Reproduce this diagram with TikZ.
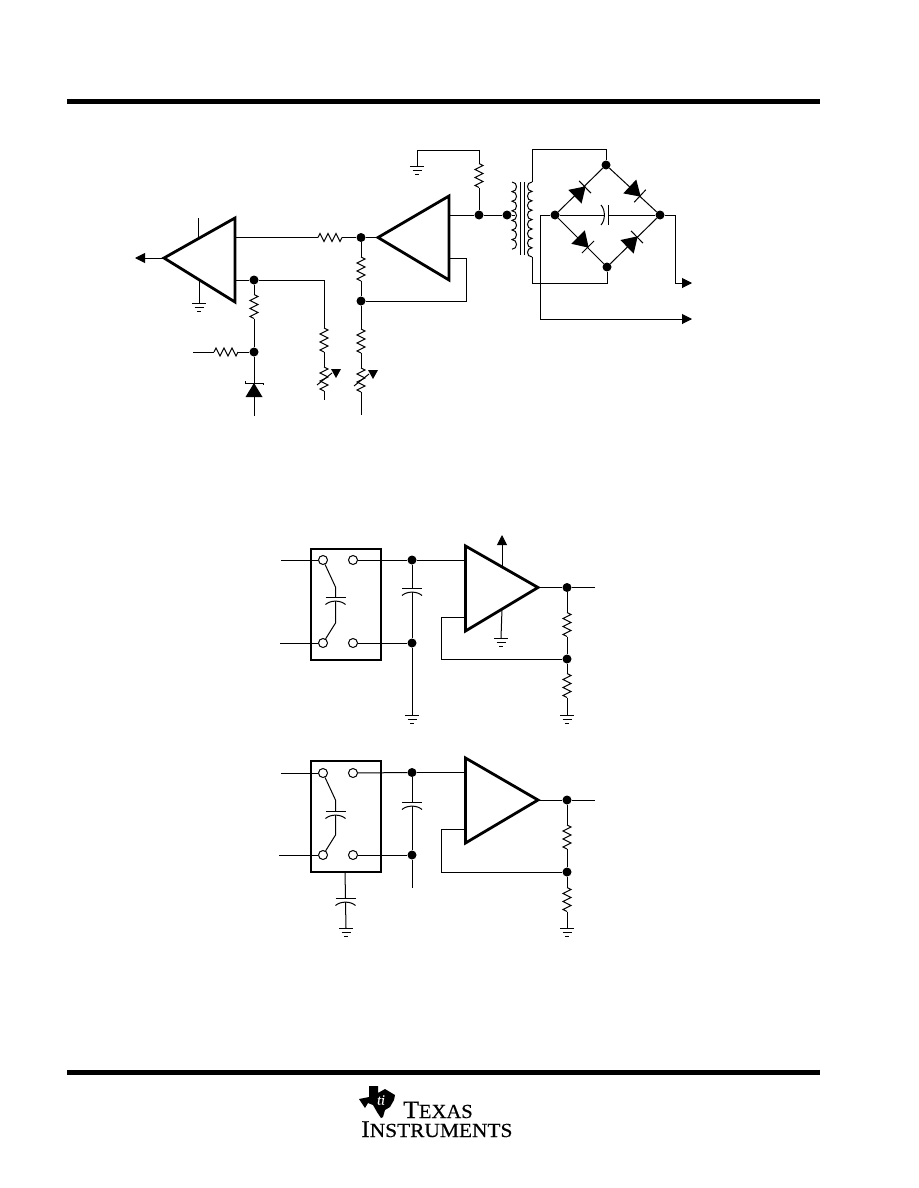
\documentclass[tikz,border=0pt]{standalone}
\usepackage{fontspec}
\usepackage{tikz}
\usetikzlibrary{arrows.meta}
\newfontfamily\logofont[FakeBold=0.4]{Liberation Serif}

\tikzset{
  wire/.style={line width=1pt},
  amp/.style={line width=2.8pt,line join=miter},
  box/.style={line width=2.2pt},
  dot/.style={circle,fill=black,inner sep=0pt,minimum size=9pt},
  term/.style={circle,draw,line width=1pt,fill=white,inner sep=0pt,minimum size=9pt},
  arrowwire/.style={wire,-{Triangle[length=10pt,width=10pt]}},
  turnright/.style={out=0,in=0,distance=6},
  turnleft/.style={out=180,in=180,distance=6},
  resistor/.pic={
    \coordinate (-a) at (-12,0);
    \coordinate (-b) at (12,0);
    \draw[wire] (-12,0) -- (-10,4) -- (-6,-4) -- (-2,4) -- (2,-4) -- (6,4) -- (10,-4) -- (12,0);
  },
  varres/.pic={
    \coordinate (-a) at (-12,0);
    \coordinate (-b) at (12,0);
    \draw[wire] (-12,0) -- (-10,4) -- (-6,-4) -- (-2,4) -- (2,-4) -- (6,4) -- (10,-4) -- (12,0);
    \draw[wire] (6,-7) -- (-6,8);
    \fill (-10,7) -- (-10,17) -- (-1,12) -- cycle;
  },
  ground/.pic={
    \coordinate (-t) at (0,0);
    \draw[wire] (-7,0) -- (7,0) (-4.5,-4.5) -- (4.5,-4.5) (-2,-8.5) -- (2,-8.5);
  },
  capac/.pic={
    \coordinate (-a) at (0,0);
    \coordinate (-b) at (0,-4);
    \draw[wire] (-10,0) -- (10,0);
    \draw[wire] (-10,-7.5) .. controls (-5,-3) and (5,-3) .. (10,-7.5);
  },
  diode/.pic={
    \fill (1,0) -- (-14,9.5) -- (-14,-9.5) -- cycle;
    \draw[wire] (0,8.5) -- (0,-8.5);
  },
  zener/.pic={
    \coordinate (-a) at (0,0);
    \coordinate (-b) at (0,-14);
    \fill (0,0) -- (-8.5,-14) -- (8.5,-14) -- cycle;
    \draw[wire] (-9,2) -- (-9,0) -- (9,0) -- (9,-2);
  },
}

\begin{document}
\begin{tikzpicture}[x=1pt,y=1pt,yscale=-1]
\useasboundingbox (0,0) rectangle (918,1188);

%Page rules
\coordinate (ruleTa) at (67,101.5);
\coordinate (ruleTb) at (820,101.5);
\coordinate (ruleBa) at (67,1072.5);
\coordinate (ruleBb) at (820,1072.5);
\draw [line width=5.5pt] (ruleTa) -- (ruleTb);
\draw [line width=5.5pt] (ruleBa) -- (ruleBb);

%Top circuit, points
\coordinate (ampLa) at (235,218);
\coordinate (ampLb) at (235,302);
\coordinate (ampLc) at (164,258);
\coordinate (ampRa) at (449,196);
\coordinate (ampRb) at (449,280);
\coordinate (ampRc) at (378,237.5);
\node [dot] (nMix) at (361,237.5) {};
\node [dot] (nFb) at (361,301) {};
\node [dot] (nSet) at (254,280) {};
\node [dot] (nZen) at (254,352) {};
\node [dot] (nOut) at (479,215) {};
\node [dot] (nPri) at (507,215) {};
\node [dot] (brT) at (606,165) {};
\node [dot] (brB) at (607,267) {};
\node [dot] (brL) at (555,215) {};
\node [dot] (brR) at (660,215) {};
\pic (rA) at (330,237.5) {resistor};
\pic (rB) [rotate=-90] at (361,269) {resistor};
\pic (rC) [rotate=-90] at (361,341) {resistor};
\pic (vC) [rotate=-90] at (361,380) {varres};
\pic (rD) [rotate=-90] at (254,306.5) {resistor};
\pic (rE) at (226,352) {resistor};
\pic (rF) [rotate=-90] at (324,340) {resistor};
\pic (vF) [rotate=-90] at (324,379) {varres};
\pic (rG) [rotate=-90] at (479,175.5) {resistor};
\pic (zA) at (254,383) {zener};
\pic (gA) at (417,166) {ground};
\pic (gB) at (199,303) {ground};
\pic (cA) [rotate=-90] at (608.5,215) {capac};
\pic [rotate=44] at (585,187) {diode};
\pic [rotate=-43] at (640,196) {diode};
\pic [rotate=-45] at (588,247) {diode};
\pic [rotate=44.5] at (637,237) {diode};

%Top circuit, wires
\coordinate (outL) at (135,258);
\coordinate (pinLa) at (198,239);
\coordinate (pinLb) at (198,218);
\coordinate (pinLc) at (199,280);
\coordinate (ampLout) at (235,237.5);
\coordinate (ampLset) at (235,280);
\coordinate (ampRout) at (449,215);
\coordinate (ampRfb) at (449,258);
\coordinate (inE) at (193,352);
\coordinate (endZ) at (254,416);
\coordinate (endF) at (324,400);
\coordinate (endC) at (361,415);
\coordinate (coilA) at (512,182);
\coordinate (coilB) at (532,182);
\coordinate (coilC) at (532,257);
\coordinate (outA) at (692,283);
\coordinate (outB) at (692,319);
\draw [arrowwire] (ampLc) -- (outL);
\draw [wire] (pinLb) -- (pinLa);
\draw [wire] (pinLc) -- (gB-t);
\draw [wire] (ampLout) -- (rA-a);
\draw [wire] (rA-b) -- (nMix);
\draw [wire] (nMix) -- (ampRc);
\draw [wire] (ampLset) -- (nSet);
\draw [wire] (nSet) -- (324,280) -- (rF-a);
\draw [wire] (rF-b) -- (vF-a);
\draw [wire] (vF-b) -- (endF);
\draw [wire] (nSet) -- (rD-a);
\draw [wire] (rD-b) -- (nZen);
\draw [wire] (inE) -- (rE-a);
\draw [wire] (rE-b) -- (nZen);
\draw [wire] (nZen) -- (zA-a);
\draw [wire] (zA-b) -- (endZ);
\draw [wire] (nMix) -- (rB-a);
\draw [wire] (rB-b) -- (nFb);
\draw [wire] (nFb) -- (rC-a);
\draw [wire] (rC-b) -- (vC-a);
\draw [wire] (vC-b) -- (endC);
\draw [wire] (nFb) -- (466,301) -- (466,258) -- (ampRfb);
\draw [wire] (ampRout) -- (nOut);
\draw [wire] (nOut) -- (nPri);
\draw [wire] (nOut) -- (rG-b);
\draw [wire] (rG-a) -- (479,150) -- (417,150) -- (gA-t);
\draw [wire] (nPri) -- (515,215);
\draw [wire] (coilB) -- (532,149) -- (606,149) -- (brT);
\draw [wire] (coilC) -- (532,283) -- (607,283) -- (brB);
\draw [wire] (brT) -- (brL);
\draw [wire] (brT) -- (brR);
\draw [wire] (brB) -- (brL);
\draw [wire] (brB) -- (brR);
\draw [wire] (brL) -- (cA-b);
\draw [wire] (cA-a) -- (brR);
\draw [wire] (brL) -- (540,215) -- (540,319) -- (691,319);
\draw [arrowwire] (682,319) -- (outB);
\draw [wire] (brR) -- (675,215) -- (675,283) -- (691,283);
\draw [arrowwire] (682,283) -- (outA);

%Transformer
\draw [wire] (coilA) to[turnright] ++(0,9.6) to[turnright] ++(0,9.6) to[turnright] ++(0,9.6) to[turnright] ++(0,9.6) to[turnright] ++(0,9.6) to[turnright] ++(0,9.6) to[turnright] ++(0,9.6);
\draw [wire] (coilB) to[turnleft] ++(0,9.4) to[turnleft] ++(0,9.4) to[turnleft] ++(0,9.4) to[turnleft] ++(0,9.4) to[turnleft] ++(0,9.4) to[turnleft] ++(0,9.4) to[turnleft] ++(0,9.4) to[turnleft] (coilC);
\draw [wire] (520.5,182) -- (520.5,255);
\draw [wire] (524.5,182) -- (524.5,255);

\draw [amp] (ampLa) -- (ampLb) -- (ampLc) -- cycle;
\draw [amp] (ampRa) -- (ampRb) -- (ampRc) -- cycle;

%Middle circuit
\coordinate (ampMa) at (465.5,546);
\coordinate (ampMb) at (465.5,631);
\coordinate (ampMc) at (538,587.5);
\coordinate (ampMin) at (465.5,560);
\coordinate (ampMfb) at (465.5,617);
\coordinate (pinMa) at (502,566);
\coordinate (pinMb) at (502,609);
\coordinate (inMa) at (281,560);
\coordinate (inMb) at (280,643);
\coordinate (outM) at (595,587.5);
\node [term] (tMa) at (323,560) {};
\node [term] (tMb) at (353,560) {};
\node [term] (tMc) at (323,643) {};
\node [term] (tMd) at (353,643) {};
\node [dot] (nMa) at (412,560) {};
\node [dot] (nMb) at (412,643) {};
\node [dot] (nMc) at (567,587.5) {};
\node [dot] (nMd) at (567,659) {};
\pic (cMa) at (412,588) {capac};
\pic (cMb) at (335.5,597) {capac};
\pic (rMa) [rotate=-90] at (567,624.5) {resistor};
\pic (rMb) [rotate=-90] at (567,685.5) {resistor};
\pic (gMa) at (412,715) {ground};
\pic (gMb) at (567,715) {ground};
\pic (gMc) at (501,638) {ground};
\draw [box] (311,549) rectangle (381,660);
\draw [wire] (inMa) -- (tMa);
\draw [wire] (inMb) -- (tMc);
\draw [wire] (tMb) -- (nMa);
\draw [wire] (tMd) -- (nMb);
\draw [wire] (nMa) -- (ampMin);
\draw [wire] (nMa) -- (cMa-a);
\draw [wire] (cMa-b) -- (nMb);
\draw [wire] (nMb) -- (gMa-t);
\draw [wire] (tMa) -- (335.5,587) -- (cMb-a);
\draw [wire] (cMb-b) -- (335.5,623) -- (tMc);
\draw [arrowwire] (pinMa) -- (502,535);
\draw [wire] (pinMb) -- (gMc-t);
\draw [wire] (ampMc) -- (nMc);
\draw [wire] (nMc) -- (outM);
\draw [wire] (nMc) -- (rMa-a);
\draw [wire] (rMa-b) -- (nMd);
\draw [wire] (nMd) -- (rMb-a);
\draw [wire] (rMb-b) -- (gMb-t);
\draw [wire] (ampMfb) -- (441,617) -- (441,659) -- (nMd);
\draw [amp] (ampMa) -- (ampMb) -- (ampMc) -- cycle;

%Bottom circuit
\coordinate (ampNa) at (465.5,758);
\coordinate (ampNb) at (465.5,843);
\coordinate (ampNc) at (538,800);
\coordinate (ampNin) at (465.5,772.5);
\coordinate (ampNfb) at (465.5,829);
\coordinate (inNa) at (281,773);
\coordinate (inNb) at (279,855);
\coordinate (outN) at (595,800);
\coordinate (endN) at (412,888);
\coordinate (boxN) at (345,872);
\node [term] (tNa) at (323,773) {};
\node [term] (tNb) at (353,773) {};
\node [term] (tNc) at (323,855) {};
\node [term] (tNd) at (353,855) {};
\node [dot] (nNa) at (412,772.5) {};
\node [dot] (nNb) at (412,855) {};
\node [dot] (nNc) at (567,800) {};
\node [dot] (nNd) at (567,872) {};
\pic (cNa) at (412,802) {capac};
\pic (cNb) at (335.5,811) {capac};
\pic (cNc) at (345.5,898) {capac};
\pic (rNa) [rotate=-90] at (567,837) {resistor};
\pic (rNb) [rotate=-90] at (567,899.5) {resistor};
\pic (gNa) at (346,928) {ground};
\pic (gNb) at (567,928) {ground};
\draw [box] (311,761) rectangle (381,872);
\draw [wire] (inNa) -- (tNa);
\draw [wire] (inNb) -- (tNc);
\draw [wire] (tNb) -- (nNa);
\draw [wire] (tNd) -- (nNb);
\draw [wire] (nNa) -- (ampNin);
\draw [wire] (nNa) -- (cNa-a);
\draw [wire] (cNa-b) -- (nNb);
\draw [wire] (nNb) -- (endN);
\draw [wire] (tNa) -- (335.5,800) -- (cNb-a);
\draw [wire] (cNb-b) -- (335.5,835) -- (tNc);
\draw [wire] (boxN) -- (cNc-a);
\draw [wire] (cNc-b) -- (gNa-t);
\draw [wire] (ampNc) -- (nNc);
\draw [wire] (nNc) -- (outN);
\draw [wire] (nNc) -- (rNa-a);
\draw [wire] (rNa-b) -- (nNd);
\draw [wire] (nNd) -- (rNb-a);
\draw [wire] (rNb-b) -- (gNb-t);
\draw [wire] (ampNfb) -- (441,829) -- (441,872) -- (nNd);
\draw [amp] (ampNa) -- (ampNb) -- (ampNc) -- cycle;

%Logo
\fill (369,1086) -- (378,1086) -- (378,1093) -- (385,1089) -- (395,1095) -- (394,1100) -- (390,1107) -- (385,1110) -- (383,1117) -- (381,1118) -- (377,1112) -- (373,1105) -- (368,1103) -- (365,1108) -- (359,1099) -- (369,1097) -- cycle;
\node [text=white,font=\logofont\itshape\fontsize{14}{14}\selectfont,inner sep=0pt] (logoMark) at (381,1100) {ti};
\node [anchor=base west,inner sep=0pt,font=\logofont,xscale=1.03] (logoTop) at (403,1118) {\fontsize{25}{25}\selectfont T\fontsize{20}{20}\selectfont EXAS};
\node [anchor=base west,inner sep=0pt,font=\logofont,xscale=1.07] (logoBot) at (361,1137) {\fontsize{24}{24}\selectfont I\fontsize{20}{20}\selectfont NSTRUMENTS};

\end{tikzpicture}
\end{document}
